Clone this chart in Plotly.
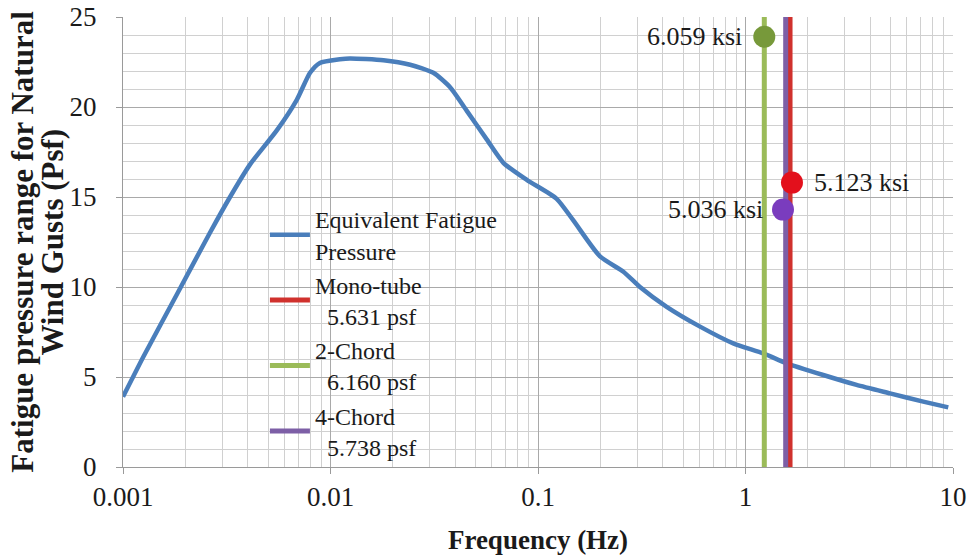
import math
import plotly.graph_objects as go

# Equivalent fatigue pressure curve (frequency in Hz, pressure in psf)
freq = [0.001, 0.00125, 0.00182, 0.00262, 0.00328, 0.00409, 0.00551, 0.00688,
        0.00797, 0.00889, 0.0111, 0.0124, 0.0180, 0.0242, 0.0313, 0.0377,
        0.0453, 0.0566, 0.0681, 0.0883, 0.123, 0.148, 0.199, 0.258,
        0.310, 0.417, 0.604, 0.873, 1.22, 1.58, 2.37, 3.43, 4.97, 7.19, 9.49]
pressure = [3.9, 6.1, 9.6, 13.0, 15.0, 16.8, 18.7, 20.4,
            21.9, 22.45, 22.65, 22.7, 22.6, 22.35, 21.9, 21.1,
            19.8, 18.2, 16.9, 15.95, 14.9, 13.7, 11.7, 10.85,
            10.0, 8.9, 7.8, 6.87, 6.31, 5.76, 5.11, 4.56, 4.09, 3.63, 3.31]

# Natural frequencies of the structures (Hz)
line_names = ["Mono-tube", "2-Chord", "4-Chord"]
line_psf = ["5.631 psf", "6.160 psf", "5.738 psf"]
line_freq = [1.639, 1.232, 1.562]
line_colors = ["#d0312d", "#9bbb59", "#7d5fa6"]

# Stress markers
marker_freq = [1.675, 1.232, 1.516]
marker_val = [15.8, 23.9, 14.3]
marker_text = ["5.123 ksi", "6.059 ksi", "5.036 ksi"]
marker_colors = ["#e3101c", "#77993a", "#7a3cbe"]

y_range = [0, 25]
x_ticks = [0.001, 0.01, 0.1, 1, 10]
x_tick_labels = ["0.001", "0.01", "0.1", "1", "10"]
y_title_lines = ["Fatigue pressure range for Natural", "Wind Gusts (Psf)"]

serif = "Liberation Serif, Times New Roman, serif"
ink = "#1a1a1a"

fig = go.Figure()

fig.add_trace(go.Scatter(
    x=freq, y=pressure, mode="lines",
    line=dict(color="#4a7ebb", width=4.5, shape="spline", smoothing=0.6),
    name="Equivalent Fatigue<br>Pressure"))

for i in range(3):
    fig.add_trace(go.Scatter(
        x=[line_freq[i], line_freq[i]], y=y_range, mode="lines",
        line=dict(color=line_colors[i], width=5),
        name=line_names[i] + "<br>\u00a0\u00a0" + line_psf[i]))

for i in range(3):
    fig.add_trace(go.Scatter(
        x=[marker_freq[i]], y=[marker_val[i]], mode="markers",
        marker=dict(color=marker_colors[i], size=22), showlegend=False))

# value labels beside the markers (log axis -> annotation x in log10 units)
pos = [("left", 20), ("right", -20), ("right", -18)]
for i in range(3):
    align, dx = pos[i]
    fig.add_annotation(x=math.log10(marker_freq[i]), y=marker_val[i], xref="x", yref="y",
                       text=marker_text[i], showarrow=False,
                       xanchor=align, xshift=dx, yanchor="middle",
                       font=dict(family=serif, size=26, color=ink))

# y-axis title as two rotated lines
title_x = [-0.122, -0.086]
for i, line in enumerate(y_title_lines):
    fig.add_annotation(x=title_x[i], y=0.5, xref="paper", yref="paper",
                       text="<b>" + line + "</b>", showarrow=False, textangle=-90,
                       xanchor="center", yanchor="middle",
                       font=dict(family=serif, size=31, color=ink))

fig.update_layout(
    width=967, height=557,
    margin=dict(l=123, r=14, t=17, b=90, autoexpand=False),
    paper_bgcolor="white", plot_bgcolor="white",
    font=dict(family=serif, color=ink),
    showlegend=True,
    legend=dict(x=0.171, y=0.60, xanchor="left", yanchor="top",
                bgcolor="rgba(0,0,0,0)", font=dict(family=serif, size=24, color=ink),
                tracegroupgap=0, itemwidth=40),
)

fig.update_xaxes(
    type="log", range=[-3, 1],
    tickvals=x_ticks, ticktext=x_tick_labels,
    tickfont=dict(family=serif, size=27, color=ink),
    showgrid=True, gridcolor="#a9a9a9", gridwidth=1,
    minor=dict(dtick="D1", showgrid=True, gridcolor="#d0d0d0", gridwidth=1),
    ticks="outside", ticklen=6, tickcolor="#9a9a9a",
    showline=True, linecolor="#9a9a9a", linewidth=1,
    zeroline=False,
    title=dict(text="<b>Frequency (Hz)</b>", font=dict(family=serif, size=27, color=ink), standoff=18),
)

fig.update_yaxes(
    range=y_range, dtick=5, tick0=0,
    tickfont=dict(family=serif, size=27, color=ink),
    showgrid=True, gridcolor="#a9a9a9", gridwidth=1,
    minor=dict(dtick=1, showgrid=True, gridcolor="#d0d0d0", gridwidth=1),
    ticks="outside", ticklen=6, tickcolor="#9a9a9a",
    showline=True, linecolor="#9a9a9a", linewidth=1,
    zeroline=False, ticklabelstandoff=14,
)

fig.write_html("out.html", config={"displayModeBar": False},
               post_script="document.body.style.margin='0px';")
